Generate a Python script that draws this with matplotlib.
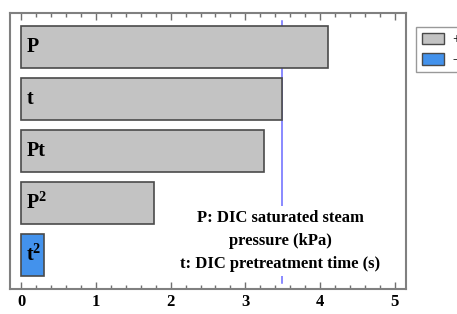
import numpy as np
import matplotlib
matplotlib.use("Agg")
import matplotlib.pyplot as plt
from matplotlib.patches import Patch
from matplotlib.ticker import MultipleLocator

# данные
terms = ["P", "t", "Pt", "P$^{\\mathbf{2}}$", "t$^{\\mathbf{2}}$"]
effects = [4.11, 3.49, 3.25, 1.78, 0.30]
signs = ["+", "+", "+", "+", "-"]
limit = 3.49

plt.rcParams['font.family'] = ['Liberation Serif', 'DejaVu Serif']
plt.rcParams['mathtext.fontset'] = 'custom'
plt.rcParams['mathtext.rm'] = 'Liberation Serif:bold'
plt.rcParams['mathtext.bf'] = 'Liberation Serif:bold'

fig = plt.figure(figsize=(4.57, 3.14), dpi=100)
ax = fig.add_axes([10/457, 1 - 289/314, (406-10)/457, (289-13)/314])

colors = {"+": "#c3c3c3", "-": "#4392ec"}
y = np.arange(len(terms))
ax.barh(y, effects, height=0.8, color=[colors[s] for s in signs],
        edgecolor="#4a4a4a", linewidth=1.2, zorder=2)
for yi, name in zip(y, terms):
    ax.text(0.07, yi, name, fontsize=14.5, fontweight="bold", va="center", ha="left", zorder=3)

ax.axvline(limit, ymin=0.02, ymax=0.97, color="#6a6aff", linewidth=1.1, zorder=1)
ax.text(limit - 0.02, 3.73, "P: DIC saturated steam\npressure (kPa)\nt: DIC pretreatment time (s)",
        fontsize=12, fontweight="bold", ha="center", va="center", linespacing=1.6,
        bbox=dict(facecolor="white", edgecolor="none", pad=3), zorder=4)

ax.set_xlim(-0.15, 5.15)
ax.set_ylim(4.65, -0.65)
ax.set_yticks([])
ax.xaxis.set_major_locator(MultipleLocator(1))
ax.xaxis.set_minor_locator(MultipleLocator(0.2))
ax.tick_params(axis="x", which="both", direction="in", top=True, colors="#707070", labelcolor="black")
ax.tick_params(axis="x", which="major", length=5, width=1)
ax.tick_params(axis="x", which="minor", length=3, width=1)
for lbl in ax.get_xticklabels():
    lbl.set_fontweight("bold")
    lbl.set_fontsize(12)
for s in ax.spines.values():
    s.set_color("#808080")
    s.set_linewidth(1.5)

handles = [Patch(facecolor=colors["+"], edgecolor="#4a4a4a", label="+"),
           Patch(facecolor=colors["-"], edgecolor="#4a4a4a", label="-")]
leg = fig.legend(handles=handles, loc="upper left", bbox_to_anchor=(416/457, 1 - 27/314),
                 frameon=True, fancybox=False, edgecolor="#808080", fontsize=10,
                 handlelength=1.6, handleheight=0.9, handletextpad=0.6,
                 labelspacing=0.5, borderaxespad=0)
for t in leg.get_texts():
    t.set_fontweight("bold")

fig.savefig("out.png", dpi=100)
